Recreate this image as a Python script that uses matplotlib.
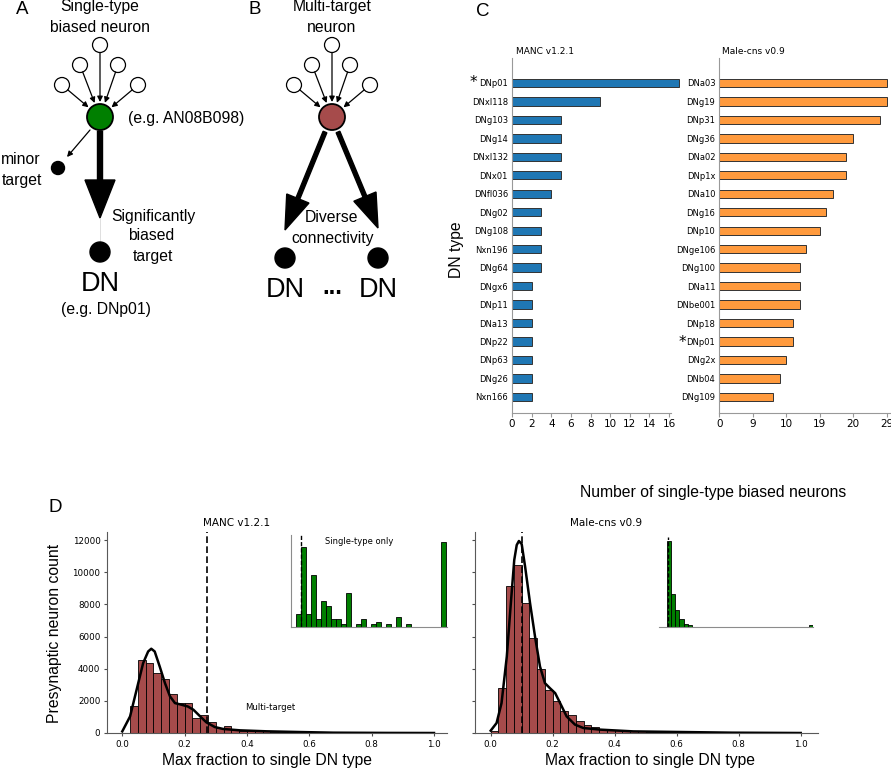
import matplotlib
matplotlib.use('Agg')
import matplotlib.pyplot as plt
import matplotlib.patches as mpatches
import numpy as np

W, H = 891, 768
ARIAL = 'Liberation Sans'
BLUE = '#1f77b4'
ORANGE = '#ff9a3d'
RED = '#a64b4b'
GREEN = '#007f00'

# ---------------- data: panel C ----------------
manc_types = ['DNp01', 'DNxl118', 'DNg103', 'DNg14', 'DNxl132', 'DNx01', 'DNfl036',
              'DNg02', 'DNg108', 'Nxn196', 'DNg64', 'DNgx6', 'DNp11', 'DNa13',
              'DNp22', 'DNp63', 'DNg26', 'Nxn166']
manc_counts = [17, 9, 5, 5, 5, 5, 4, 3, 3, 3, 3, 2, 2, 2, 2, 2, 2, 2]
manc_ticks = [0, 2, 4, 6, 8, 10, 12, 14, 16]

mcns_types = ['DNa03', 'DNg19', 'DNp31', 'DNg36', 'DNa02', 'DNp1x', 'DNa10', 'DNg16',
              'DNp10', 'DNge106', 'DNg100', 'DNa11', 'DNbe001', 'DNp18', 'DNp01',
              'DNg2x', 'DNb04', 'DNg109']
mcns_counts = [25, 25, 24, 20, 19, 19, 17, 16, 15, 13, 12, 12, 12, 11, 11, 10, 9, 8]
mcns_ticks = [0, 5, 10, 15, 20, 25]
mcns_tick_labels = ['0', '9', '10', '19', '20', '29']

# ---------------- data: panel D ----------------
bin_w = 0.025
manc_hist_start = 0.025
manc_hist = [1650, 4550, 4350, 3750, 3350, 2450, 1850, 1850, 930, 1140, 660, 290,
             450, 190, 150, 160, 120, 100, 90, 70, 60, 40, 30, 20, 15]
mcns_hist_start = 0.0
mcns_hist = [145, 2790, 9150, 10450, 8110, 5900, 3970, 2690, 1970, 1380, 1130, 760,
             515, 370, 270, 210, 170, 145, 125, 105, 85, 65, 50, 40, 30, 20]

manc_kde_x = [0.0, 0.025, 0.046, 0.067, 0.083, 0.093, 0.104, 0.12, 0.137, 0.153, 0.169,
              0.19, 0.21, 0.228, 0.25, 0.27, 0.297, 0.324, 0.378, 0.463, 0.57, 0.677,
              0.85, 1.0]
manc_kde_y = [100, 1030, 2690, 4350, 5070, 5240, 5070, 4140, 3100, 2280, 1860, 1760,
              1650, 1450, 1030, 660, 370, 250, 165, 105, 60, 20, 5, 0]
mcns_kde_x = [0.0, 0.019, 0.035, 0.052, 0.065, 0.076, 0.084, 0.091, 0.1, 0.111, 0.127,
              0.143, 0.159, 0.175, 0.191, 0.208, 0.224, 0.245, 0.272, 0.299, 0.353,
              0.46, 0.62, 0.78, 1.0]
mcns_kde_y = [145, 620, 1860, 4760, 8070, 10760, 11690, 11940, 11750, 10350, 8070, 6000,
              4140, 3100, 2790, 2480, 1860, 1030, 520, 310, 210, 100, 60, 20, 0]

manc_thresh = 0.273
mcns_thresh = 0.102

manc_single_start = 0.25
manc_single = [5, 31, 5, 20, 3, 10, 8, 3, 3, 1, 13, 0, 1, 3, 0, 1, 2, 0, 1, 0,
               4, 0, 1, 0, 0, 0, 0, 0, 0, 33]
mcns_single_start = 0.1
mcns_single = [516, 200, 100, 50, 18, 12, 2, 2, 0, 0, 0, 2, 1, 2, 1, 0, 0, 0, 0, 0,
               2, 0, 0, 0, 0, 0, 0, 0, 0, 0, 0, 0, 0, 0, 0, 10]


def rect(x0, y0, x1, y1):
    return [x0 / W, 1 - y1 / H, (x1 - x0) / W, (y1 - y0) / H]


def ftext(x, y, s, **kw):
    kw.setdefault('ha', 'center')
    kw.setdefault('va', 'center')
    fig.text(x / W, 1 - y / H, s, **kw)


fig = plt.figure(figsize=(W / 100, H / 100), dpi=100)

# ---------------- panels A and B (schematic, pixel coords) ----------------
dg = fig.add_axes([0, 0, 1, 1])
dg.set_xlim(0, W)
dg.set_ylim(H, 0)
dg.axis('off')


def circle(cx, cy, r, fc, lw=1.0):
    dg.add_patch(mpatches.Circle((cx, cy), r, fc=fc, ec='k', lw=lw, zorder=3))


def thin_arrow(p0, p1):
    dg.annotate('', xy=p1, xytext=p0,
                arrowprops=dict(arrowstyle='-|>', color='k', lw=0.9,
                                mutation_scale=8, shrinkA=0, shrinkB=0))


def inputs(cx, cy, rnode):
    offs = [(0, -72), (-20, -52), (18, -52), (-38, -32), (38, -32)]
    for dx, dy in offs:
        ix, iy = cx + dx, cy + dy
        circle(ix, iy, 7.5, 'white', lw=0.9)
        v = np.array([cx - ix, cy - iy], dtype=float)
        v /= np.hypot(*v)
        thin_arrow((ix + 7.5 * v[0], iy + 7.5 * v[1]),
                   (cx - (rnode + 2) * v[0], cy - (rnode + 2) * v[1]))


# A
inputs(100, 117, 13)
circle(100, 117, 13, GREEN, lw=1.3)
thin_arrow((90, 130), (67, 157))
circle(58, 168, 6.5, 'k')
dg.add_patch(mpatches.FancyArrow(100, 131, 0, 87, width=5, head_width=30,
                                 head_length=38, length_includes_head=True,
                                 color='k', zorder=2))
dg.plot([100, 100], [218, 242], color='0.85', lw=0.6)
circle(100, 252, 10, 'k')

# B
inputs(332, 117, 13)
circle(332, 117, 13, RED, lw=1.3)
dg.add_patch(mpatches.FancyArrow(325, 132, 285 - 325, 230 - 132, width=4, head_width=24,
                                 head_length=34, length_includes_head=True,
                                 color='k', zorder=2))
dg.add_patch(mpatches.FancyArrow(338, 132, 378 - 338, 228 - 132, width=4, head_width=24,
                                 head_length=34, length_includes_head=True,
                                 color='k', zorder=2))
circle(285, 258, 10, 'k')
circle(378, 258, 10, 'k')

A = dict(fontfamily=ARIAL, fontsize=11.3)
ftext(22, 10, 'A', fontfamily=ARIAL, fontsize=13.5)
ftext(255, 10, 'B', fontfamily=ARIAL, fontsize=13.5)
ftext(483, 12, 'C', fontfamily=ARIAL, fontsize=13.5)
ftext(55, 508, 'D', fontfamily=ARIAL, fontsize=13.5)

ftext(100, 7, 'Single-type', **A)
ftext(100, 27, 'biased neuron', **A)
ftext(128, 118, '(e.g. AN08B098)', ha='left', **A)
ftext(21, 159, 'minor', **A)
ftext(22, 180, 'target', **A)
ftext(153, 217, 'Significantly', **A)
ftext(151, 236, 'biased', **A)
ftext(153, 256, 'target', **A)
ftext(100, 284, 'DN', fontfamily=ARIAL, fontsize=19.5)
ftext(106, 310, '(e.g. DNp01)', **A)

ftext(332, 7, 'Multi-target', **A)
ftext(332, 27, 'neuron', **A)
ftext(332, 218, 'Diverse', **A)
ftext(333, 238, 'connectivity', **A)
ftext(285, 290, 'DN', fontfamily=ARIAL, fontsize=19.5)
ftext(378, 290, 'DN', fontfamily=ARIAL, fontsize=19.5)
ftext(332, 288, '...', fontfamily=ARIAL, fontsize=17, fontweight='bold')

# ---------------- panel C ----------------
def bar_panel(box, names, vals, color, xmax, ticks, tlabels):
    ax = fig.add_axes(rect(*box))
    pos = np.arange(len(names))
    ax.barh(pos, vals, height=0.45, color=color, edgecolor='0.2', lw=0.7, clip_on=False)
    ax.set_ylim(len(names) - 1 + 0.87, -1.35)
    ax.set_xlim(0, xmax)
    ax.set_yticks(pos)
    ax.set_yticklabels(names, fontsize=6)
    ax.set_xticks(ticks)
    ax.set_xticklabels(tlabels, fontsize=7.5)
    ax.tick_params(axis='y', length=0, pad=2.9)
    ax.tick_params(axis='x', length=3, pad=1.5, color='0.6')
    for s in ['top', 'right']:
        ax.spines[s].set_visible(False)
    for s in ['left', 'bottom']:
        ax.spines[s].set_color('0.6')
        ax.spines[s].set_linewidth(0.8)
    return ax


bar_panel((512, 58, 671, 413), manc_types, manc_counts, BLUE, 16.2,
          manc_ticks, [str(t) for t in manc_ticks])
bar_panel((719.3, 58, 891, 413), mcns_types, mcns_counts, ORANGE, 25.65,
          mcns_ticks, mcns_tick_labels)
ftext(516, 52, 'MANC v1.2.1', ha='left', fontsize=6.5)
ftext(721.7, 52, 'Male-cns v0.9', ha='left', fontsize=6.5)
ftext(473, 82, '*', fontsize=11)
ftext(682, 343, '*', fontsize=11)
ftext(457, 250, 'DN type', rotation=90, **A)

# ---------------- panel D ----------------
def hist_panel(box, xlim, start, counts, kx, ky, thresh, sharey=None):
    ax = fig.add_axes(rect(*box), sharey=sharey)
    edges = start + bin_w * np.arange(len(counts))
    ax.bar(edges, counts, width=bin_w, align='edge', color=RED,
           edgecolor='k', lw=0.6)
    ax.plot(kx, ky, color='k', lw=1.8)
    ax.axvline(thresh, color='k', lw=1.2, ls=(0, (4, 2)))
    ax.set_xlim(*xlim)
    ax.set_ylim(0, 12500)
    ax.set_xticks([0.0, 0.2, 0.4, 0.6, 0.8, 1.0])
    ax.set_xticklabels(['0.0', '0.2', '0.4', '0.6', '0.8', '1.0'], fontsize=6.3)
    ax.set_yticks(range(0, 12001, 2000))
    ax.tick_params(length=2.5, pad=2.2, labelsize=6.3, color='0.3')
    for s in ['top', 'right']:
        ax.spines[s].set_visible(False)
    for s in ['left', 'bottom']:
        ax.spines[s].set_color('0.35')
    return ax


def inset(box, xlim, ylim, start, counts, thresh, show_left=True):
    ax = fig.add_axes(rect(*box))
    edges = start + bin_w * np.arange(len(counts))
    ax.bar(edges, counts, width=bin_w, align='edge', color=GREEN,
           edgecolor='k', lw=0.6)
    ax.axvline(thresh, color='k', lw=1.0, ls=(0, (3, 1.5)))
    ax.set_xlim(*xlim)
    ax.set_ylim(*ylim)
    ax.set_xticks([])
    ax.set_yticks([])
    ax.patch.set_alpha(0)
    for s in ['top', 'right']:
        ax.spines[s].set_visible(False)
    ax.spines['left'].set_visible(show_left)
    for s in ['left', 'bottom']:
        ax.spines[s].set_color('0.55')
    return ax


axl = hist_panel((107, 532, 447, 733), (-0.049, 1.0417), manc_hist_start, manc_hist,
                 manc_kde_x, manc_kde_y, manc_thresh)
axr = hist_panel((475, 532, 818, 733), (-0.0506, 1.0558), mcns_hist_start, mcns_hist,
                 mcns_kde_x, mcns_kde_y, mcns_thresh, sharey=axl)
plt.setp(axr.get_yticklabels(), visible=False)

inset((291, 535, 447, 627), (0.225, 1.005), (0, 35.6), manc_single_start,
      manc_single, manc_thresh)
inset((659, 537, 813, 627), (0.049, 0.998), (0, 540), mcns_single_start,
      mcns_single, mcns_thresh, show_left=False)

ftext(713, 493, 'Number of single-type biased neurons', **A)
ftext(237, 523, 'MANC v1.2.1', fontsize=7.5)
ftext(606, 523, 'Male-cns v0.9', fontsize=7.5)
ftext(270, 707, 'Multi-target', fontsize=6.1)
ftext(359, 541, 'Single-type only', fontsize=6)
ftext(55, 633, 'Presynaptic neuron count', rotation=90, **A)
ftext(267, 760, 'Max fraction to single DN type', **A)
ftext(650, 760, 'Max fraction to single DN type', **A)

fig.savefig('out.png', dpi=100)
